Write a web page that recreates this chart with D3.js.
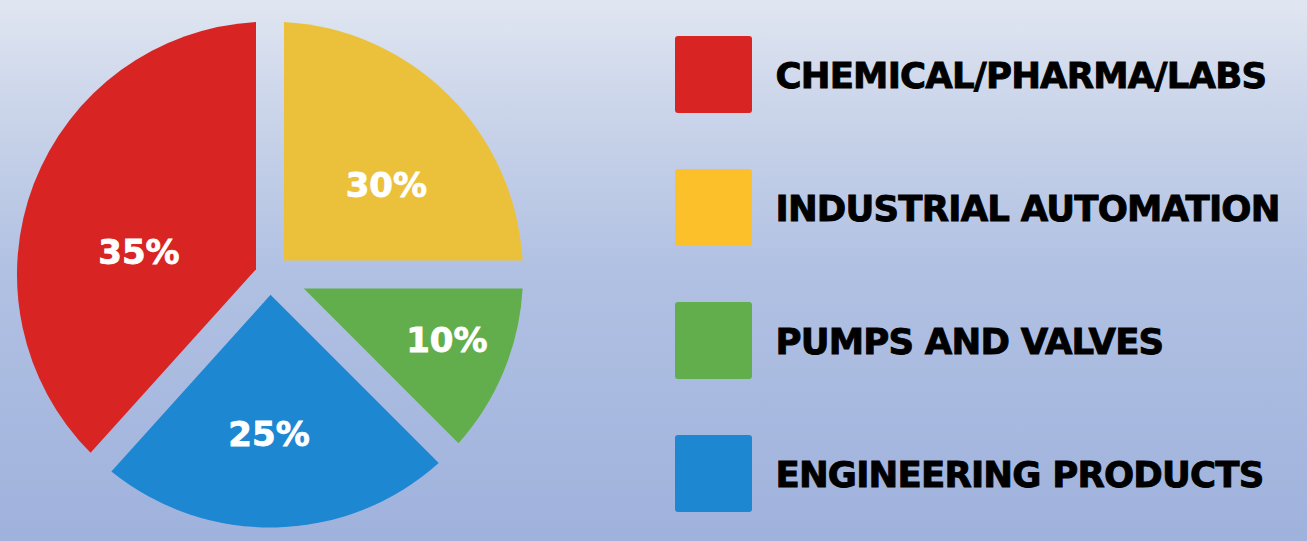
<!DOCTYPE html>
<html>
<head>
<meta charset="utf-8">
<script src="https://cdn.jsdelivr.net/npm/d3@7"></script>
<style>
    html, body { margin: 0; padding: 0; overflow: hidden; }
    svg { display: block; }
</style>
</head>
<body>
<div id="chart"></div>
<script>
'use strict';

// sectors and their printed share
const categories = ["CHEMICAL/PHARMA/LABS", "INDUSTRIAL AUTOMATION", "PUMPS AND VALVES", "ENGINEERING PRODUCTS"];
const shares = [35, 30, 10, 25];
// the artwork does not draw slices to scale, so the sweep (degrees) is read off the picture
const sliceSweep = [138, 90, 45, 87];
const sliceColors = ["#d92424", "#ebc13b", "#62ae4c", "#1d87d2"];
const legendColors = ["#d92424", "#fcc12a", "#62ae4c", "#1d87d2"];

const width = 1307, height = 541;
const cx = 270, cy = 274.5, radius = 253;
const gap = 14;      // half width of the gap between slices
// hand placement of the % labels relative to the slice centroid
const labelNudge = [[-9, 24], [9, 17], [25, 2], [-5, 6]];

let svg = d3.select("#chart")
    .append("svg")
    .attr("width", width)
    .attr("height", height);

// background wash
let grad = svg.append("defs").append("linearGradient")
    .attr("id", "bg")
    .attr("x1", 0).attr("y1", 0).attr("x2", 0).attr("y2", 1);
grad.append("stop").attr("offset", "0%").attr("stop-color", "#e0e6f1");
grad.append("stop").attr("offset", "20%").attr("stop-color", "#cbd5ea");
grad.append("stop").attr("offset", "50%").attr("stop-color", "#b1c1e3");
grad.append("stop").attr("offset", "100%").attr("stop-color", "#9fb2dc");
svg.append("rect")
    .attr("width", width)
    .attr("height", height)
    .attr("fill", "url(#bg)");

// pie, starting where the red slice starts so order follows the legend
let pie = d3.pie()
    .sort(null)
    .value(d => d)
    .startAngle(-138 * Math.PI / 180)
    .endAngle(222 * Math.PI / 180);
let arcs = pie(sliceSweep);

// slice with parallel-sided gaps: apex where the two offset edges meet
function slicePath(a0, a1) {
    let mid = (a0 + a1) / 2, half = (a1 - a0) / 2;
    let apex = gap / Math.sin(half);
    let pad = Math.asin(gap / radius);
    let s = a0 + pad, e = a1 - pad;
    let p = d3.path();
    p.moveTo(apex * Math.sin(mid), -apex * Math.cos(mid));
    p.lineTo(radius * Math.sin(s), -radius * Math.cos(s));
    p.arc(0, 0, radius, s - Math.PI / 2, e - Math.PI / 2);
    p.closePath();
    return p.toString();
}

let pieGroup = svg.append("g")
    .attr("transform", "translate(" + cx + "," + cy + ")");

pieGroup.selectAll("path.slice")
    .data(arcs)
    .enter()
    .append("path")
    .attr("class", "slice")
    .attr("d", d => slicePath(d.startAngle, d.endAngle))
    .attr("fill", (d, i) => sliceColors[i]);

// centroid of a circular sector
function labelPos(d, i) {
    let mid = (d.startAngle + d.endAngle) / 2;
    let theta = d.endAngle - d.startAngle;
    let dist = 4 * radius * Math.sin(theta / 2) / (3 * theta);
    return [dist * Math.sin(mid) + labelNudge[i][0], -dist * Math.cos(mid) + labelNudge[i][1]];
}

pieGroup.selectAll("text.pct")
    .data(arcs)
    .enter()
    .append("text")
    .attr("class", "pct")
    .attr("x", (d, i) => labelPos(d, i)[0])
    .attr("y", (d, i) => labelPos(d, i)[1] + 12.4)
    .attr("text-anchor", "middle")
    .attr("font-family", "DejaVu Sans")
    .attr("font-weight", "bold")
    .attr("font-size", 34)
    .attr("fill", "#ffffff")
    .attr("stroke", "#ffffff")
    .attr("stroke-width", 0.8)
    .text((d, i) => shares[i] + "%");

// legend
let rowScale = d3.scalePoint()
    .domain(categories)
    .range([74.5, 473.5]);

let legend = svg.append("g");
let rows = legend.selectAll("g.row")
    .data(categories)
    .enter()
    .append("g")
    .attr("class", "row")
    .attr("transform", d => "translate(0," + rowScale(d) + ")");

rows.append("rect")
    .attr("x", 675)
    .attr("y", -38.5)
    .attr("width", 77)
    .attr("height", 77)
    .attr("rx", 3)
    .attr("fill", (d, i) => legendColors[i]);

rows.append("text")
    .attr("x", 775.5)
    .attr("y", 13.5)
    .attr("font-family", "DejaVu Sans")
    .attr("font-weight", "bold")
    .attr("font-size", 35.5)
    .attr("letter-spacing", -0.8)
    .attr("fill", "#000000")
    .attr("stroke", "#000000")
    .attr("stroke-width", 0.9)
    .text(d => d);
</script>
</body>
</html>
